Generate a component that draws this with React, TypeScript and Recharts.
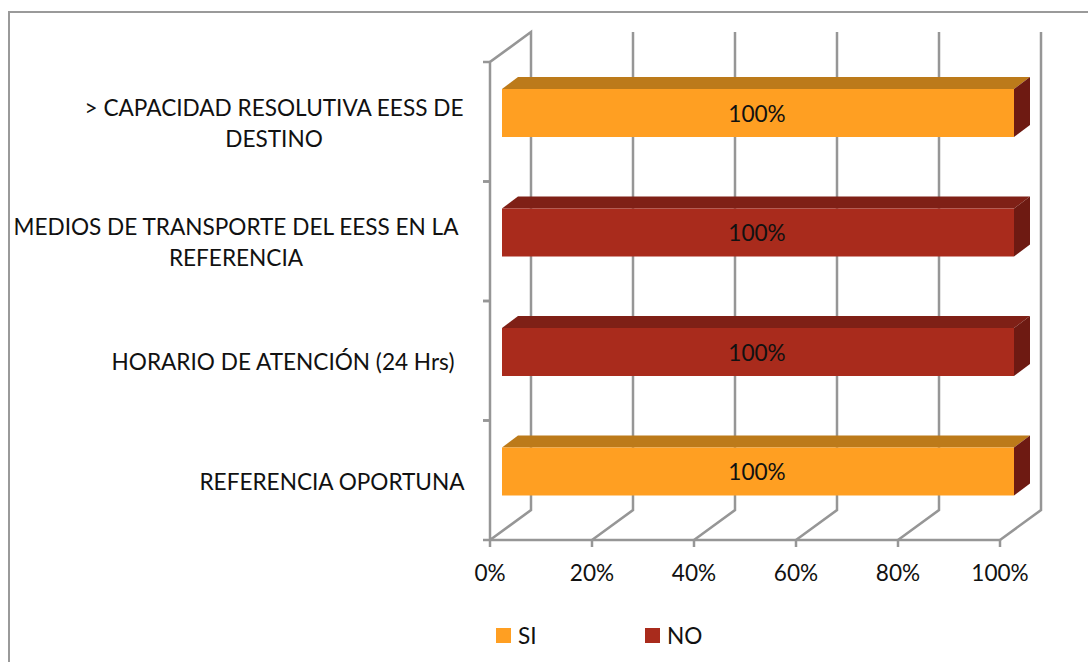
import { BarChart, Bar, XAxis, YAxis, CartesianGrid, Legend, LabelList } from 'recharts';

const categories = [
  '> CAPACIDAD RESOLUTIVA EESS DE|DESTINO',
  'MEDIOS DE TRANSPORTE DEL EESS EN LA|REFERENCIA',
  'HORARIO DE ATENCIÓN (24 Hrs)',
  'REFERENCIA OPORTUNA',
];
const siValues = [100, 0, 0, 100];
const noValues = [0, 100, 100, 0];
const xTicks = [0, 20, 40, 60, 80, 100];

const data = categories.map((name, i) => ({ name, si: siValues[i], no: noValues[i] }));

const FONT = 'Lato, "Open Sans", sans-serif';
const FONT_SIZE = 22.6;
const GRID = '#969696';
// 3D look: wall depth and how far the bars sit off the front plane
const WALL_X = 41;
const WALL_Y = 30;
const BAR_DX = 12;
const BAR_DY = -9;
const DEPTH_X = 16;
const DEPTH_Y = 12;
const TICK = 7;
const labelCenters = [274, 236, 283, 332];

function Wall(props: any) {
  const { x1, y1, y2, index } = props;
  let d = `M${x1},${y2} L${x1 + WALL_X},${y2 - WALL_Y} L${x1 + WALL_X},${y1 - WALL_Y}`;
  if (index === 0) d += ` L${x1},${y1} L${x1},${y2}`;
  return <path key={index} d={d} fill="none" stroke={GRID} strokeWidth={2.5} />;
}

function Bar3D(props: any) {
  const { x, y, width, height, fill, top, side } = props;
  if (!width) return null;
  const l = x + BAR_DX;
  const t = y + BAR_DY;
  const r = l + width + 2;
  const b = t + height;
  return (
    <g>
      <path d={`M${l},${t} L${l + DEPTH_X},${t - DEPTH_Y} L${r + DEPTH_X},${t - DEPTH_Y} L${r},${t} Z`} fill={top} />
      <path d={`M${r},${t} L${r + DEPTH_X},${t - DEPTH_Y} L${r + DEPTH_X},${b - DEPTH_Y} L${r},${b} Z`} fill={side} />
      <rect x={l} y={t} width={r - l} height={height} fill={fill} />
    </g>
  );
}

function ValueLabel(props: any) {
  const { x, y, width, height, value } = props;
  if (!value) return null;
  return (
    <text x={x + width / 2 + BAR_DX} y={y + height / 2 + BAR_DY + 3} textAnchor="middle" dominantBaseline="middle" fontSize={FONT_SIZE} fontFamily={FONT} fill="#111">
      {value}%
    </text>
  );
}

// category label plus the band-edge tick marks above and below it
function CategoryTick(props: any) {
  const { x, y, height, payload, index } = props;
  const lines = String(payload.value).split('|');
  const cx = labelCenters[index];
  const half = height / categories.length / 2;
  return (
    <g>
      <text textAnchor="middle" fontSize={FONT_SIZE} fontFamily={FONT} fill="#111">
        {lines.map((line, i) => (
          <tspan key={i} x={cx} y={y + (lines.length > 1 ? -6 : 9.5) + i * 31}>{line}</tspan>
        ))}
      </text>
      <path d={`M${x - TICK},${y - half} H${x} M${x - TICK},${y + half} H${x}`} stroke={GRID} strokeWidth={2.5} />
    </g>
  );
}

function LegendRow({ payload }: any) {
  return (
    <div style={{ display: 'flex', fontFamily: FONT, fontSize: FONT_SIZE, color: '#111' }}>
      {(payload || []).map((p: any) => (
        <div key={p.value} style={{ display: 'flex', alignItems: 'center', width: 149 }}>
          <span style={{ width: 15, height: 15, background: p.color, marginRight: 7 }} />
          {p.value}
        </div>
      ))}
    </div>
  );
}

export default function App() {
  return (
    <div style={{ position: 'absolute', left: 0, top: 0, width: 1088, height: 662, overflow: 'hidden', background: '#fff' }}>
      <div style={{ position: 'absolute', left: 8, top: 11, width: 1080, height: 660, borderLeft: '2px solid #9a9a9a', borderTop: '2px solid #9a9a9a' }} />
      <BarChart
        width={1088}
        height={662}
        data={data}
        layout="vertical"
        margin={{ top: 62, right: 88, bottom: 45, left: 10 }}
        barSize={48}
        style={{ position: 'absolute', left: 0, top: 0 }}
      >
        <CartesianGrid horizontal={false} vertical={Wall} />
        <XAxis
          type="number"
          domain={[0, 100]}
          ticks={xTicks}
          tickFormatter={(v) => `${v}%`}
          tick={{ fontSize: FONT_SIZE, fontFamily: FONT, fill: '#111' }}
          stroke={GRID}
          strokeWidth={2.5}
          tickSize={TICK}
          tickMargin={18}
          height={50}
          interval={0}
        />
        <YAxis type="category" dataKey="name" width={480} tick={CategoryTick} axisLine={false} tickLine={false} tickSize={0} tickMargin={0} interval={0} />
        <Legend
          content={LegendRow}
          itemSorter={null}
          wrapperStyle={{ left: 496, bottom: 13, width: 400 }}
        />
        <Bar dataKey="si" name="SI" stackId="a" fill="#FF9F22" isAnimationActive={false} shape={(p: any) => <Bar3D {...p} top="#BC7A1A" side="#6E1A12" />}>
          <LabelList dataKey="si" content={ValueLabel} />
        </Bar>
        <Bar dataKey="no" name="NO" stackId="a" fill="#A92B1C" isAnimationActive={false} shape={(p: any) => <Bar3D {...p} top="#7F2016" side="#6E1A12" />}>
          <LabelList dataKey="no" content={ValueLabel} />
        </Bar>
      </BarChart>
    </div>
  );
}
